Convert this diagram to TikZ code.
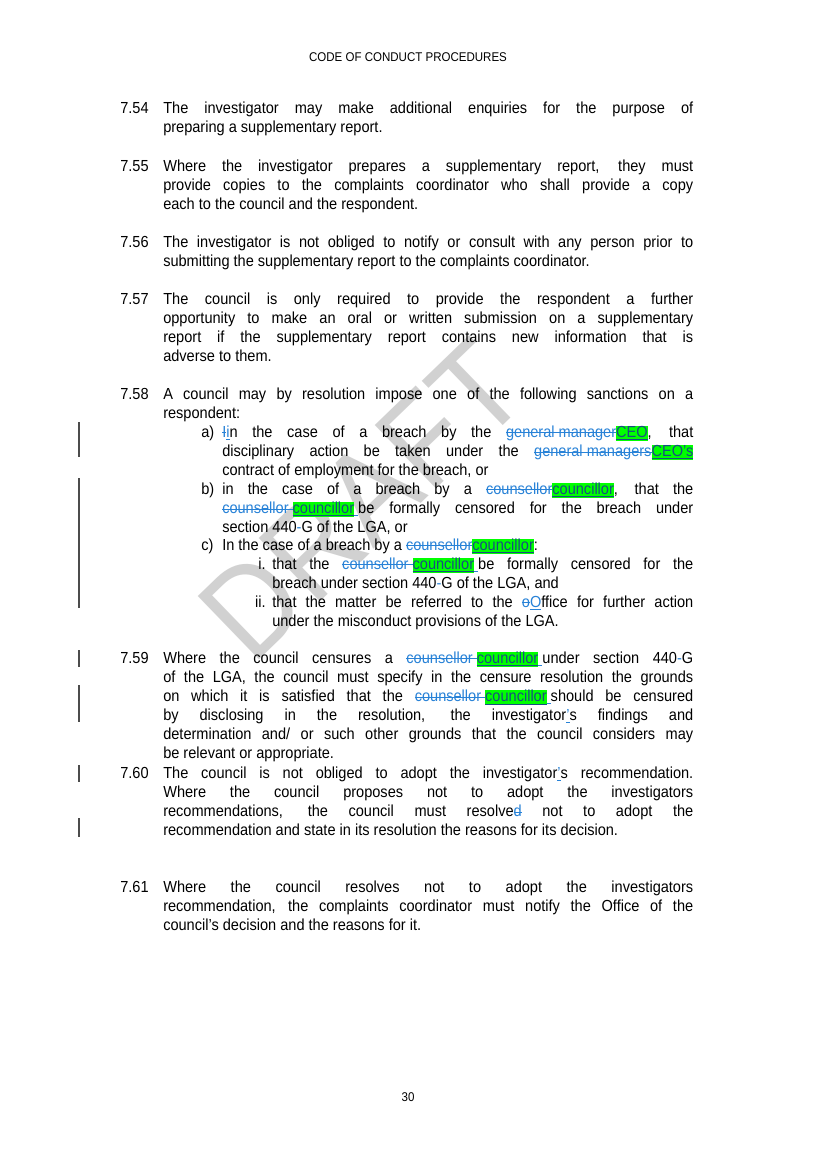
\documentclass[tikz,border=0pt]{standalone}
\usepackage{fontspec}
\setmainfont{Liberation Sans}[FakeStretch=0.91]
\usepackage{xcolor}
\definecolor{chblue}{RGB}{40,130,215}
\definecolor{hl}{RGB}{0,255,0}
\newcommand{\dl}[1]{{\color{chblue}\setbox0\hbox{#1}\rlap{\rule[0.28em]{\wd0}{0.5pt}}\box0}}
\newcommand{\iu}[1]{{\color{chblue}\underline{#1}}}
\newcommand{\hl}[1]{{\setlength\fboxsep{0pt}\colorbox{hl}{\rule[-0.22em]{0pt}{0.95em}\textcolor{chblue!60!black}{\underline{#1}}}}}
\tikzset{
  body/.style={anchor=north west,inner sep=0pt,align=justify,font=\fontsize{12pt}{14.3pt}\selectfont},
  num/.style={anchor=north west,inner sep=0pt,font=\fontsize{12pt}{14.3pt}\selectfont},
  numr/.style={anchor=north east,inner sep=0pt,font=\fontsize{12pt}{14.3pt}\selectfont},
  bar/.style={line width=0.9pt,black!70}
}
\begin{document}
\begin{tikzpicture}[x=0.75pt,y=-0.75pt]
\useasboundingbox[fill=white] (0,0) rectangle (816,1155);
\node[rotate=44,text=black!18,font=\fontsize{96pt}{96pt}\selectfont] (wm) at (362,500) {DRAFT};
\node[font=\fontsize{9.5pt}{11pt}\selectfont] (hdr) at (408,57) {CODE OF CONDUCT PROCEDURES};
\node[font=\fontsize{9.5pt}{11pt}\selectfont] (pg) at (408,1097) {30};

\node[num] (n54) at (120,100) {\strut 7.54};
\node[body,text width=397.5pt] (p54) at (163,100) {\strut The investigator may make additional enquiries for the purpose of\linebreak preparing a supplementary report.};
\node[num] (n55) at (120,158) {\strut 7.55};
\node[body,text width=397.5pt] (p55) at (163,158) {\strut Where the investigator prepares a supplementary report, they must\linebreak provide copies to the complaints coordinator who shall provide a copy\linebreak each to the council and the respondent.};
\node[num] (n56) at (120,234) {\strut 7.56};
\node[body,text width=397.5pt] (p56) at (163,234) {\strut The investigator is not obliged to notify or consult with any person prior to\linebreak submitting the supplementary report to the complaints coordinator.};
\node[num] (n57) at (120,291) {\strut 7.57};
\node[body,text width=397.5pt] (p57) at (163,291) {\strut The council is only required to provide the respondent a further\linebreak opportunity to make an oral or written submission on a supplementary\linebreak report if the supplementary report contains new information that is\linebreak adverse to them.};
\node[num] (n58) at (120,386) {\strut 7.58};
\node[body,text width=397.5pt] (p58) at (163,386) {\strut A council may by resolution impose one of the following sanctions on a\linebreak respondent:};
\node[num] (la) at (201,424) {\strut a)};
\node[body,text width=353.3pt] (pa) at (222,424) {\strut\dl{I}\iu{i}n the case of a breach by the \dl{general manager}\hl{CEO}, that\linebreak disciplinary action be taken under the \dl{general managers}\hl{CEO’s}\linebreak contract of employment for the breach, or};
\node[num] (lb) at (201,481) {\strut b)};
\node[body,text width=353.3pt] (pb) at (222,481) {\strut in the case of a breach by a \dl{counsellor}\hl{councillor}, that the\linebreak \dl{counsellor }\hl{councillor}\iu{\ }be formally censored for the breach under\linebreak section 440\textcolor{chblue}{-}G of the LGA, or};
\node[num] (lc) at (201,537) {\strut c)};
\node[body,text width=353.3pt] (pc) at (222,537) {\strut In the case of a breach by a \dl{counsellor}\hl{councillor}:};
\node[numr] (li) at (266,556) {\strut i.};
\node[body,text width=315.8pt] (pi) at (272,556) {\strut that the \dl{counsellor }\hl{councillor}\iu{\ }be formally censored for the\linebreak breach under section 440\textcolor{chblue}{-}G of the LGA, and};
\node[numr] (lii) at (266,594) {\strut ii.};
\node[body,text width=315.8pt] (pii) at (272,594) {\strut that the matter be referred to the \dl{o}\iu{O}ffice for further action\linebreak under the misconduct provisions of the LGA.};
\node[num] (n59) at (120,650) {\strut 7.59};
\node[body,text width=397.5pt] (p59) at (163,650) {\strut Where the council censures a \dl{counsellor }\hl{councillor}\iu{\ }under section 440\textcolor{chblue}{-}G\linebreak of the LGA, the council must specify in the censure resolution the grounds\linebreak on which it is satisfied that the \dl{counsellor }\hl{councillor}\iu{\ }should be censured\linebreak by disclosing in the resolution, the investigator\iu{’}s findings and\linebreak determination and/ or such other grounds that the council considers may\linebreak be relevant or appropriate.};
\node[num] (n60) at (120,765) {\strut 7.60};
\node[body,text width=397.5pt] (p60) at (163,765) {\strut The council is not obliged to adopt the investigator\iu{’}s recommendation.\linebreak Where the council proposes not to adopt the investigators\linebreak recommendations, the council must resolve\dl{d} not to adopt the\linebreak recommendation and state in its resolution the reasons for its decision.};
\node[num] (n61) at (120,879) {\strut 7.61};
\node[body,text width=397.5pt] (p61) at (163,879) {\strut Where the council resolves not to adopt the investigators\linebreak recommendation, the complaints coordinator must notify the Office of the\linebreak council's decision and the reasons for it.};

\coordinate (b1t) at (79,422); \coordinate (b1b) at (79,457);
\coordinate (b2t) at (79,478); \coordinate (b2b) at (79,608);
\coordinate (b3t) at (79,650); \coordinate (b3b) at (79,667);
\coordinate (b4t) at (79,685); \coordinate (b4b) at (79,722);
\coordinate (b5t) at (79,765); \coordinate (b5b) at (79,782);
\coordinate (b6t) at (79,818); \coordinate (b6b) at (79,837);
\draw[bar] (b1t)--(b1b); \draw[bar] (b2t)--(b2b); \draw[bar] (b3t)--(b3b);
\draw[bar] (b4t)--(b4b); \draw[bar] (b5t)--(b5b); \draw[bar] (b6t)--(b6b);
\end{tikzpicture}
\end{document}
